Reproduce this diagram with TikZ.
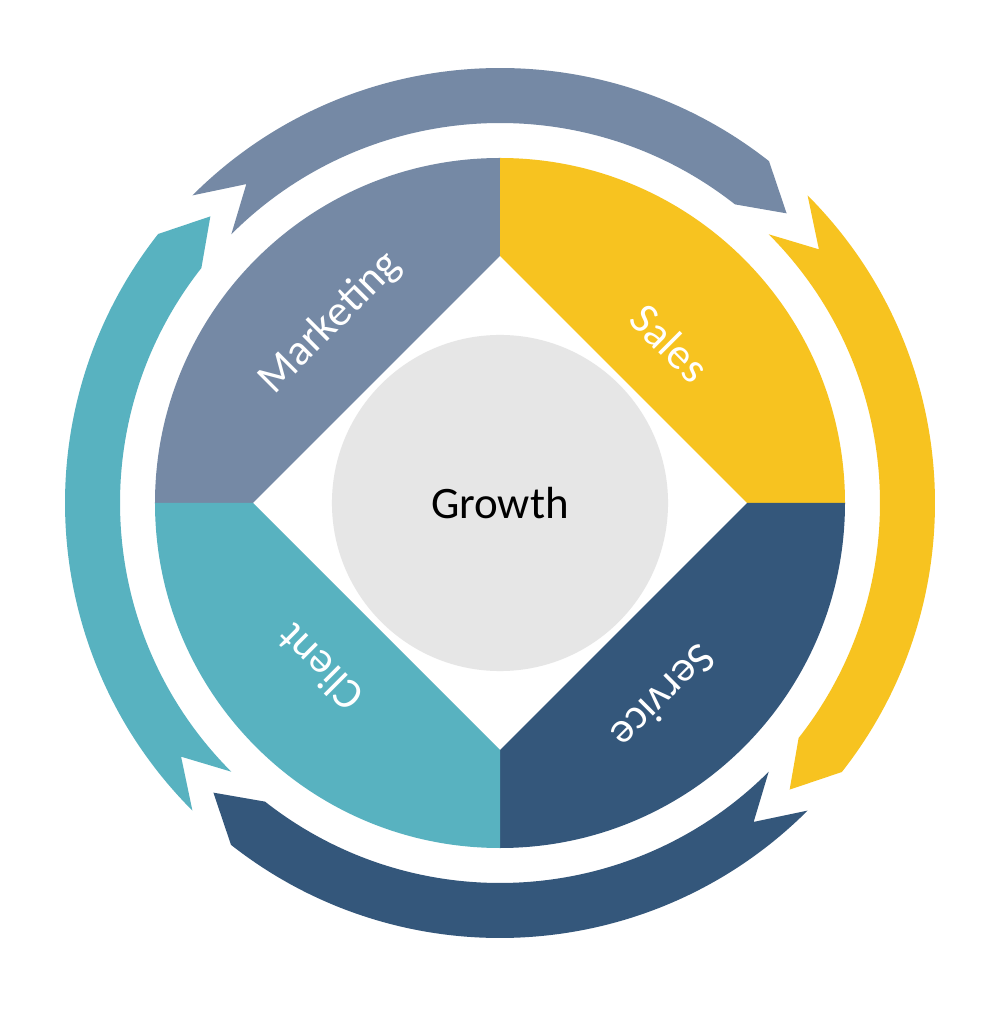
\documentclass[tikz,border=0pt]{standalone}
\usepackage{fontspec}
\setmainfont{Carlito}
\definecolor{mktblue}{RGB}{117,137,165}
\definecolor{salyellow}{RGB}{247,195,32}
\definecolor{srvblue}{RGB}{52,87,123}
\definecolor{clicyan}{RGB}{88,178,192}
\definecolor{growgray}{RGB}{230,230,230}
\tikzset{
lbl/.style={text=white, font=\fontsize{31}{36}\selectfont},
hub/.style={circle, fill=growgray, minimum size=8.4cm, inner sep=0pt,
  font=\fontsize{32}{38}\selectfont}}

\begin{document}
\begin{tikzpicture}[x=0.025cm, y=0.025cm]
\fill[white] (-500,-521) rectangle (504,503);
% quarter pieces round the diamond
\fill[mktblue] (180:345) arc[start angle=180, end angle=90, radius=345] -- (0,247) -- (-247,0) -- cycle;
\fill[salyellow] (90:345) arc[start angle=90, end angle=0, radius=345] -- (247,0) -- (0,247) -- cycle;
\fill[srvblue] (0:345) arc[start angle=0, end angle=-90, radius=345] -- (0,-247) -- (247,0) -- cycle;
\fill[clicyan] (-90:345) arc[start angle=-90, end angle=-180, radius=345] -- (-247,0) -- (0,-247) -- cycle;
% outer arrows, clockwise
\fill[mktblue] (135:435) arc[start angle=135, end angle=51.8, radius=435] -- (45.3:407.5) -- (51.8:380) arc[start angle=51.8, end angle=135, radius=380] -- (128.5:407.5) -- cycle;
\fill[salyellow, rotate=-90] (135:435) arc[start angle=135, end angle=51.8, radius=435] -- (45.3:407.5) -- (51.8:380) arc[start angle=51.8, end angle=135, radius=380] -- (128.5:407.5) -- cycle;
\fill[srvblue, rotate=-180] (135:435) arc[start angle=135, end angle=51.8, radius=435] -- (45.3:407.5) -- (51.8:380) arc[start angle=51.8, end angle=135, radius=380] -- (128.5:407.5) -- cycle;
\fill[clicyan, rotate=90] (135:435) arc[start angle=135, end angle=51.8, radius=435] -- (45.3:407.5) -- (51.8:380) arc[start angle=51.8, end angle=135, radius=380] -- (128.5:407.5) -- cycle;

\node[hub] (growth) at (0,0) {Growth};
\node[lbl, rotate=45] (mkt) at (-170,180) {Marketing};
\node[lbl, rotate=-45] (sal) at (170,160) {Sales};
\node[lbl, rotate=-135] (srv) at (164,-194) {Service};
\node[lbl, rotate=135] (cli) at (-180,-165) {Client};
\end{tikzpicture}
\end{document}
